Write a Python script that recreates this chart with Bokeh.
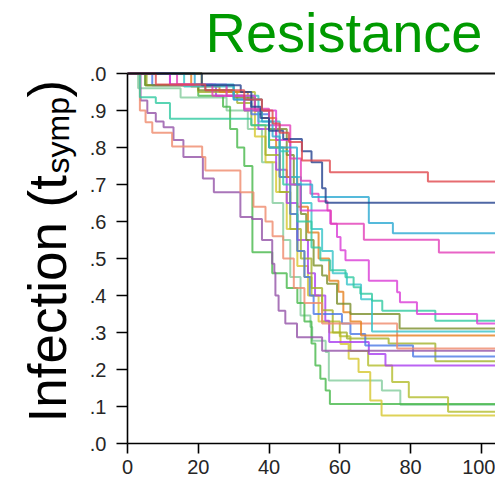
import math
from bokeh.plotting import figure
from bokeh.layouts import row
from bokeh.models import Range1d, FixedTicker, Label, Span
from bokeh.embed import file_html
from bokeh.resources import INLINE

# ---------------- data ----------------
T_END = 104

red_t = [0, 8, 22, 33, 38, 41, 43, 45.6, 49.3, 57.2, 84.9]
red_s = [1.0, 0.97, 0.955, 0.93, 0.90, 0.865, 0.84, 0.815, 0.765, 0.733, 0.708]

navy_t = [0, 21, 32, 35, 37.6, 40, 44, 49.3, 52, 55, 56]
navy_s = [1.0, 0.968, 0.95, 0.91, 0.88, 0.845, 0.823, 0.79, 0.76, 0.69, 0.651]

sky_t = [0, 19, 30, 38, 41, 43, 47.9, 52.2, 68.2, 75]
sky_s = [1.0, 0.97, 0.93, 0.87, 0.83, 0.80, 0.70, 0.666, 0.596, 0.568]

mag1_t = [0, 14, 24, 33, 40, 46, 49, 51.7, 54, 56.5, 57.5, 66.8, 88]
mag1_s = [1.0, 0.97, 0.94, 0.905, 0.86, 0.77, 0.71, 0.675, 0.655, 0.63, 0.594, 0.551, 0.516]

mag2_t = [0, 12, 28, 36, 42, 46, 48.9, 57.3, 59.2, 60.2, 61.6, 68.2, 76.2, 77, 81.8, 98.8]
mag2_s = [1.0, 0.97, 0.94, 0.90, 0.82, 0.70, 0.63, 0.594, 0.558, 0.522, 0.495, 0.44, 0.409, 0.382, 0.35, 0.324]

teal_t = [0, 3.5, 8, 12, 35, 40, 44, 48, 52, 54.5, 57.3, 61.6, 63.9, 65.8, 69.1, 72, 87]
teal_s = [1.0, 0.936, 0.92, 0.878, 0.86, 0.80, 0.70, 0.60, 0.53, 0.495, 0.468, 0.449, 0.422, 0.405, 0.386, 0.359, 0.332]

turq_t = [0, 16, 30, 37, 43, 46, 49, 52, 55, 58, 62, 66, 69.1]
turq_s = [1.0, 0.965, 0.94, 0.87, 0.79, 0.72, 0.65, 0.58, 0.52, 0.46, 0.43, 0.39, 0.303]

olive_t = [0, 5, 20, 30, 36, 40, 45, 47, 49, 50.5, 52.6, 55, 56.4, 59.2, 63, 76.9]
olive_s = [1.0, 0.968, 0.955, 0.935, 0.90, 0.85, 0.78, 0.70, 0.62, 0.55, 0.481, 0.454, 0.432, 0.378, 0.35, 0.311]

orange_t = [0, 18, 26, 34, 38, 42, 45, 48, 51, 54, 57, 59.6, 61, 63, 66]
orange_s = [1.0, 0.965, 0.95, 0.93, 0.88, 0.80, 0.72, 0.64, 0.57, 0.50, 0.44, 0.41, 0.355, 0.33, 0.292]

salmon_t = [0, 3.5, 5.1, 7, 12.6, 21.1, 22, 31.9, 35.6, 39, 41, 44, 47, 50, 55, 76.2]
salmon_s = [1.0, 0.90, 0.868, 0.84, 0.803, 0.774, 0.738, 0.679, 0.64, 0.60, 0.56, 0.50, 0.42, 0.38, 0.324, 0.257]

purple_t = [0, 3.7, 5.6, 8, 10.2, 13, 15.8, 21.3, 24.4, 31.9, 35.2, 38, 40.9, 41.5, 41.8, 42.7, 44.6, 47.9, 55]
purple_s = [1.0, 0.927, 0.893, 0.87, 0.855, 0.82, 0.774, 0.716, 0.679, 0.612, 0.607, 0.55, 0.486, 0.462, 0.40, 0.359, 0.324, 0.287, 0.251]

blue_t = [0, 7, 22, 30, 35, 40, 43, 46, 48, 50, 51.5, 52.6, 60.6, 63, 67.2, 80.7]
blue_s = [1.0, 0.968, 0.955, 0.93, 0.89, 0.80, 0.72, 0.62, 0.52, 0.45, 0.40, 0.35, 0.324, 0.296, 0.265, 0.235]

oyel_t = [0, 5.4, 20, 31, 35, 39, 43, 46, 49, 52, 55, 58, 62, 73.8, 87]
oyel_s = [1.0, 0.968, 0.95, 0.92, 0.86, 0.78, 0.68, 0.58, 0.50, 0.42, 0.36, 0.30, 0.284, 0.27, 0.222]

violet_t = [0, 12, 25, 33, 37, 40, 42, 45, 48, 51, 53, 55.9, 57, 68.2, 72.9]
violet_s = [1.0, 0.97, 0.94, 0.90, 0.85, 0.80, 0.74, 0.65, 0.55, 0.46, 0.40, 0.332, 0.274, 0.242, 0.211]

lgreen_t = [0, 3, 15, 28, 34, 38, 41, 44, 46, 48.9, 51.7, 52.2, 56, 56.9, 71.9, 77.1]
lgreen_s = [1.0, 0.96, 0.935, 0.90, 0.85, 0.76, 0.65, 0.55, 0.45, 0.346, 0.315, 0.278, 0.247, 0.17, 0.143, 0.105]

lime_t = [0, 21, 30, 36, 40, 43, 46, 48, 50, 52, 55, 60, 63, 68, 74.8, 79.5, 90.6]
lime_s = [1.0, 0.968, 0.95, 0.90, 0.82, 0.72, 0.62, 0.52, 0.45, 0.40, 0.33, 0.29, 0.25, 0.211, 0.166, 0.125, 0.086]

yellow_t = [0, 21, 28, 33, 36, 39, 42, 45, 48, 51, 54, 57, 60.2, 62.5, 65.3, 68.6, 71.8]
yellow_s = [1.0, 0.968, 0.94, 0.90, 0.83, 0.76, 0.68, 0.58, 0.48, 0.40, 0.33, 0.30, 0.269, 0.229, 0.193, 0.116, 0.076]

green_t = [0, 5, 20, 27, 29, 31, 33, 35.3, 40.9, 45, 48, 50, 52, 53.1, 54.5, 56, 57.2]
green_s = [1.0, 0.968, 0.94, 0.91, 0.85, 0.80, 0.75, 0.517, 0.46, 0.42, 0.38, 0.33, 0.27, 0.211, 0.175, 0.143, 0.107]

series_colors = {
    "red": "#e0474c", "navy": "#23418f", "sky": "#2aa9d2", "mag1": "#e23db8",
    "mag2": "#d93bd6", "teal": "#30c9a0", "turq": "#35c3c8", "olive": "#7b8f2a",
    "orange": "#e5801e", "salmon": "#ef8a6c", "purple": "#9452a8", "blue": "#4a78e6",
    "oyel": "#a3b22a", "violet": "#a93cf0", "lgreen": "#83cc9c", "lime": "#b3bd2c",
    "yellow": "#d6c72e", "green": "#46b84a",
}
series = [
    ("lgreen", lgreen_t, lgreen_s), ("green", green_t, green_s), ("yellow", yellow_t, yellow_s),
    ("lime", lime_t, lime_s), ("violet", violet_t, violet_s), ("oyel", oyel_t, oyel_s),
    ("blue", blue_t, blue_s), ("purple", purple_t, purple_s), ("salmon", salmon_t, salmon_s),
    ("orange", orange_t, orange_s), ("olive", olive_t, olive_s), ("turq", turq_t, turq_s),
    ("teal", teal_t, teal_s), ("mag2", mag2_t, mag2_s), ("mag1", mag1_t, mag1_s),
    ("sky", sky_t, sky_s), ("navy", navy_t, navy_s), ("red", red_t, red_s),
]

x_ticks = [0, 20, 40, 60, 80, 100]
y_ticks = [0.0, 0.1, 0.2, 0.3, 0.4, 0.5, 0.6, 0.7, 0.8, 0.9, 1.0]
y_tick_labels = [".0", ".1", ".2", ".3", ".4", ".5", ".6", ".7", ".8", ".9", ".0"]

TITLE = "Resistance"
YLABEL_MAIN, YLABEL_SUB, YLABEL_END = "Infection (t", "symp", ")"

# ---------------- layout constants (pixels) ----------------
H = 484
LEFT_W = 84          # strip that holds the rotated y-axis label
MAIN_W = 411
FRAME_BOTTOM_BORDER = 41
FRAME_H = H - FRAME_BOTTOM_BORDER       # 443
PLOT_H = 370                            # pixel height of 0..1
Y_TOP = FRAME_H / PLOT_H                # frame extends above 1.0 to hold the title

# ---------------- main figure ----------------
p = figure(width=MAIN_W, height=H, output_backend="svg", toolbar_location=None, title=None,
           x_range=Range1d(0, T_END), y_range=Range1d(0, Y_TOP), frame_align=False,
           min_border_left=127 - LEFT_W, min_border_right=0, min_border_top=0,
           min_border_bottom=FRAME_BOTTOM_BORDER)
p.outline_line_color = None
p.grid.visible = False

for name, t, s in series:
    p.step(x=list(t) + [T_END], y=list(s) + [s[-1]], mode="after",
           line_color=series_colors[name], line_width=2, line_alpha=0.8)

for ax in (p.xaxis[0], p.yaxis[0]):
    ax.axis_line_color = "black"
    ax.axis_line_width = 1.6
    ax.major_tick_line_color = "black"
    ax.major_tick_line_width = 1.6
    ax.major_tick_in = 0
    ax.minor_tick_line_color = None
    ax.major_label_text_font = "Liberation Sans"
    ax.major_label_text_color = "#262626"

p.xaxis.ticker = FixedTicker(ticks=x_ticks)
p.xaxis.major_tick_out = 10
p.xaxis.major_label_standoff = 6
p.xaxis.major_label_text_font_size = "20px"

p.yaxis.ticker = FixedTicker(ticks=y_ticks)
p.yaxis.bounds = (0, 1)
p.yaxis.major_label_overrides = {t: l for t, l in zip(y_ticks, y_tick_labels)}
p.yaxis.major_tick_out = 11
p.yaxis.major_label_standoff = 10
p.yaxis.major_label_text_font_size = "20px"

p.add_layout(Span(location=1.0, dimension="width", line_color="#111111", line_width=2))

p.add_layout(Label(x=355, y=411, x_units="screen", y_units="screen", text=TITLE,
                   text_font="Liberation Sans", text_font_size="56px", text_color="#009a00",
                   text_align="right", text_baseline="alphabetic"))

# ---------------- left strip with the y-axis label ----------------
lab = figure(width=LEFT_W, height=H, output_backend="svg", toolbar_location=None, title=None,
             x_axis_type=None, y_axis_type=None, x_range=Range1d(0, 1), y_range=Range1d(0, 1),
             frame_align=False,
             min_border_left=0, min_border_right=0, min_border_top=0, min_border_bottom=0)
lab.outline_line_color = None
lab.grid.visible = False

lab.add_layout(Label(x=47, y=62, x_units="screen", y_units="screen", angle=math.pi / 2,
                     text=YLABEL_MAIN, text_font="Liberation Sans", text_font_size="53px",
                     text_color="black", text_align="left", text_baseline="alphabetic"))
lab.add_layout(Label(x=57, y=311, x_units="screen", y_units="screen", angle=math.pi / 2,
                     text=YLABEL_SUB, text_font="Liberation Sans", text_font_size="32px",
                     text_color="black", text_align="left", text_baseline="alphabetic"))
lab.add_layout(Label(x=47, y=387, x_units="screen", y_units="screen", angle=math.pi / 2,
                     text=YLABEL_END, text_font="Liberation Sans", text_font_size="53px",
                     text_color="black", text_align="left", text_baseline="alphabetic"))

layout = row(lab, p, spacing=0)
open("out.html", "w").write(file_html(layout, INLINE))
